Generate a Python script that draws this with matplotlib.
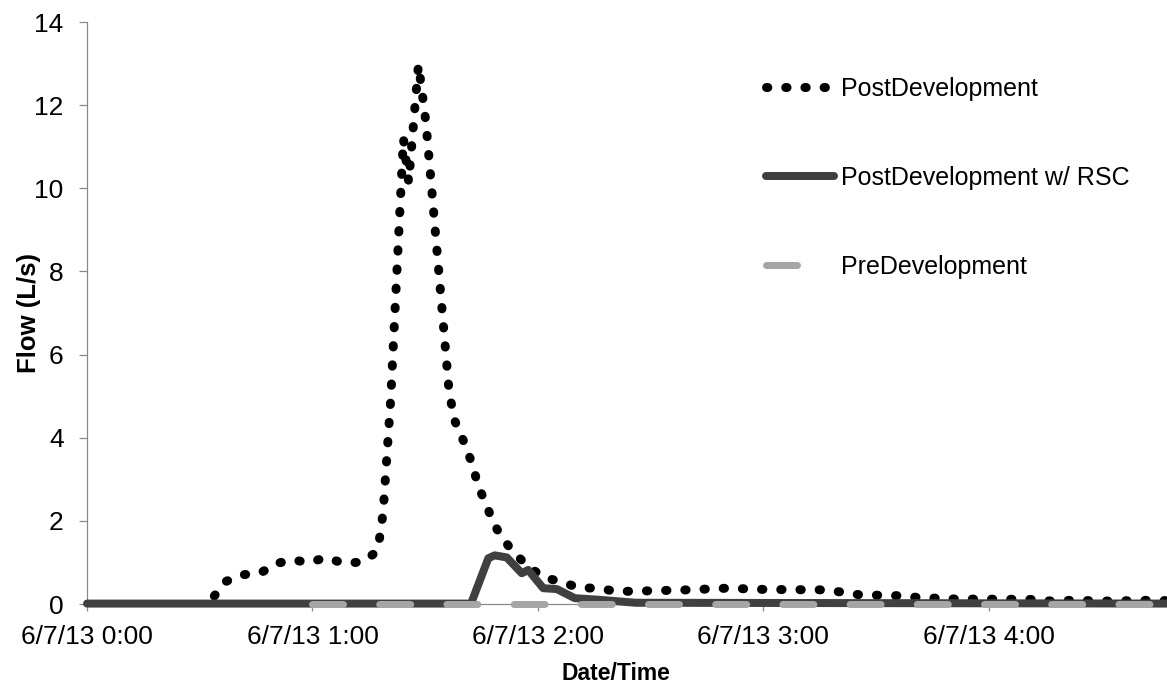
import numpy as np
import matplotlib
matplotlib.use("Agg")
import matplotlib.pyplot as plt

plt.rcParams['font.family'] = ['Liberation Sans', 'DejaVu Sans']

# flow series, time in minutes after 6/7/13 0:00, flow in L/s
post_t = [32.2, 36.9, 41.2, 46.2, 50.6, 54.9, 58.7, 63.6, 68.4, 73.2, 76.7, 77.6,
          78.8, 80.8, 84.2, 85.6, 88.2, 88.9, 90.2, 96.4, 97.9, 100.3, 102.8, 104.0,
          106.2, 108.0, 110.6, 113.8, 117.4, 121.6, 126.3, 130.9, 136.0, 141.1, 151.1,
          160.0, 170.2, 180.4, 195.6, 200.6, 205.7, 215.7, 220.8, 231.0, 251.6, 256.8,
          262.0, 272.4, 282.7, 287.4]
post_flow = [0, 0.54, 0.70, 0.75, 0.98, 1.06, 1.00, 1.11, 0.98, 1.01, 1.23, 1.42,
             2.20, 4.90, 11.20, 10.15, 12.97, 12.50, 11.58, 5.07, 4.40, 3.90, 3.30, 2.85,
             2.41, 1.97, 1.57, 1.22, 0.90, 0.64, 0.53, 0.39, 0.38, 0.30, 0.32,
             0.34, 0.38, 0.35, 0.34, 0.29, 0.22, 0.20, 0.16, 0.12, 0.11, 0.07,
             0.09, 0.07, 0.09, 0.08]

rsc_t = [0, 102.2, 106.8, 108.5, 111.7, 115.7, 117.4, 121.4, 125.0, 129.8, 136.5, 146.0, 287.4]
rsc_flow = [0.01, 0.01, 1.10, 1.17, 1.12, 0.74, 0.82, 0.38, 0.36, 0.14, 0.10, 0.03, 0.01]

pre_t = [60, 287.4]
pre_flow = [0.01, 0.01]

tick_pos = [0, 60, 120, 180, 240]
tick_labels = ["6/7/13 0:00", "6/7/13 1:00", "6/7/13 2:00", "6/7/13 3:00", "6/7/13 4:00"]
series_names = ["PostDevelopment", "PostDevelopment w/ RSC", "PreDevelopment"]

W, H = 1167, 688
fig = plt.figure(figsize=(W / 100, H / 100), dpi=100)
ax = fig.add_axes([87 / W, 84 / H, 1080 / W, 582 / H])

px = 0.72  # points per pixel at 100 dpi
post_lw = 9 * px
rsc_lw = 8 * px
pre_lw = 7 * px
dots = (0.15, 1.983)
pre_dash = (4.43, 5.17)

post_line, = ax.plot(post_t, post_flow, color="black", lw=post_lw,
                     linestyle=(1.0, dots), dash_capstyle="round",
                     solid_joinstyle="round", zorder=3, clip_on=False)
rsc_line, = ax.plot(rsc_t, rsc_flow, color="#404040", lw=rsc_lw,
                    solid_capstyle="round", solid_joinstyle="round",
                    zorder=4, clip_on=False)
pre_line, = ax.plot(pre_t, pre_flow, color="#a6a6a6", lw=pre_lw,
                    linestyle=(0, pre_dash), dash_capstyle="round",
                    zorder=5, clip_on=False)

ax.set_xlim(0, 287.4)
ax.set_ylim(0, 14)
ax.set_yticks(np.arange(0, 15, 2))
ax.set_xticks(tick_pos)
ax.set_xticklabels(tick_labels)

for side in ["top", "right"]:
    ax.spines[side].set_visible(False)
for side in ["left", "bottom"]:
    ax.spines[side].set_color("#898989")
    ax.spines[side].set_linewidth(1.2 * px)
    ax.spines[side].set_zorder(2)

ax.tick_params(axis="x", direction="out", length=5, width=0.9, color="#898989",
               labelsize=19, pad=10)
ax.tick_params(axis="y", direction="out", length=5.8, width=0.9, color="#898989",
               labelsize=19, pad=11)

ax.set_xlabel("Date/Time", fontsize=16.5, fontweight="bold")
ax.set_ylabel("Flow (L/s)", fontsize=18.5, fontweight="bold")
ax.xaxis.set_label_coords(0.49, -0.1)
ax.yaxis.set_label_coords(-0.0426, 0.5)

leg = ax.legend([post_line, rsc_line, pre_line], series_names,
                loc="upper left", bbox_to_anchor=(0.6287, 0.906),
                frameon=False, fontsize=18, handlelength=2.72,
                handletextpad=0.3, labelspacing=2.6, borderpad=0,
                borderaxespad=0)

# legend keys: dots start at the left end, PreDevelopment shows a single dash
keys = leg.get_lines()
keys[0].set_linestyle((0, dots))
xd = np.asarray(keys[2].get_xdata(), dtype=float)
yd = np.asarray(keys[2].get_ydata(), dtype=float)
keys[2].set_data([xd[0], xd[0] + pre_dash[0] * pre_lw], [yd[0], yd[0]])

fig.savefig("out.png", dpi=100)
